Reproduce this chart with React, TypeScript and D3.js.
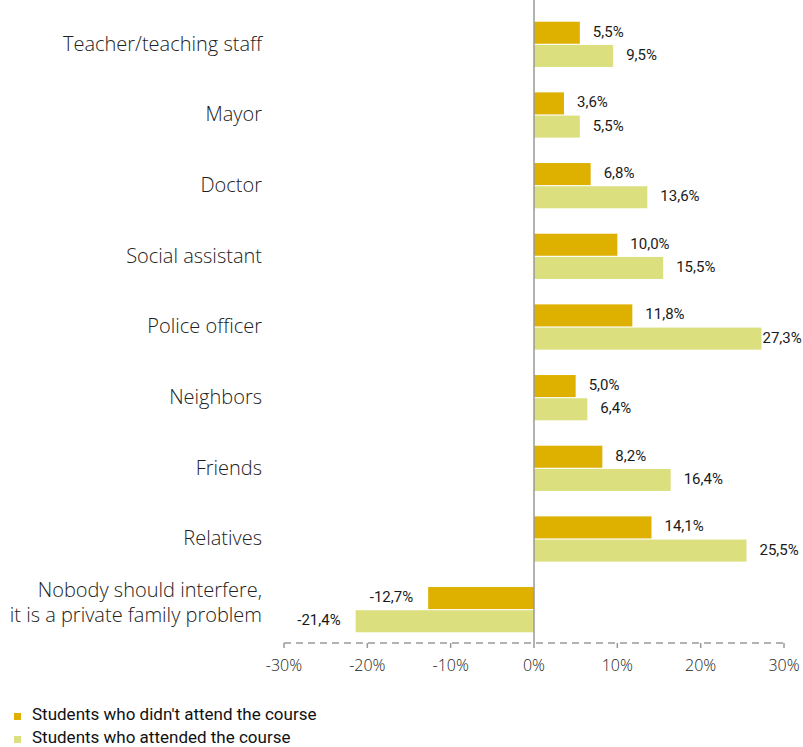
import React, { useEffect, useRef } from 'react';
import * as d3 from 'd3';

const categories = [
  'Teacher/teaching staff',
  'Mayor',
  'Doctor',
  'Social assistant',
  'Police officer',
  'Neighbors',
  'Friends',
  'Relatives',
  'Nobody should interfere,\nit is a private family problem',
];
const notAttended = [5.5, 3.6, 6.8, 10.0, 11.8, 5.0, 8.2, 14.1, -12.7];
const attended = [9.5, 5.5, 13.6, 15.5, 27.3, 6.4, 16.4, 25.5, -21.4];
const seriesNames = ["Students who didn't attend the course", 'Students who attended the course'];
const seriesColors = ['#DEB000', '#DBDF7E'];
const ticks = [-30, -20, -10, 0, 10, 20, 30];

const W = 803, H = 747;

export default function App() {
  const ref = useRef<SVGSVGElement>(null);

  useEffect(() => {
    const svg = d3.select(ref.current);
    svg.selectAll('*').remove();

    const x = d3.scaleLinear().domain([-30, 30]).range([284, 784]);
    const y = d3.scaleBand().domain(categories).range([9, 645]).paddingInner(0.36).paddingOuter(0.18);
    const inner = d3.scaleBand().domain(['0', '1']).range([0, y.bandwidth()]).paddingInner(0.05);
    const fmt = (v: number) => d3.format('.1f')(v).replace('.', ',').replace('−', '-') + '%';

    // category labels
    const lab = svg.append('g');
    categories.forEach((c) => {
      const lines = c.split('\n');
      const cy = (y(c) as number) + y.bandwidth() / 2;
      const t = lab.append('text')
        .attr('text-anchor', 'end')
        .attr('font-family', 'Open Sans')
        .attr('font-weight', 300)
        .attr('font-size', 20)
        .attr('fill', '#222');
      lines.forEach((l, i) => {
        t.append('tspan')
          .attr('x', 262)
          .attr('y', lines.length > 1 ? cy - 18 + i * 25 : cy + 1)
          .attr('dominant-baseline', 'middle')
          .text(l);
      });
    });

    // bars
    [notAttended, attended].forEach((vals, s) => {
      const g = svg.append('g');
      vals.forEach((v, i) => {
        const by = (y(categories[i]) as number) + (inner(String(s)) as number);
        g.append('rect')
          .attr('x', Math.min(x(0), x(v)))
          .attr('y', by)
          .attr('width', Math.abs(x(v) - x(0)))
          .attr('height', inner.bandwidth())
          .attr('fill', seriesColors[s]);
        const lbl = g.append('text')
          .attr('x', v >= 0 ? x(v) + 13 : x(v) - 15)
          .attr('y', by + inner.bandwidth() / 2)
          .attr('dominant-baseline', 'middle')
          .attr('text-anchor', v >= 0 ? 'start' : 'end')
          .attr('font-family', 'Roboto')
          .attr('font-size', 15)
          .attr('fill', '#1a1a1a')
          .text(fmt(v));
        // keep label inside the picture
        const bb = (lbl.node() as SVGTextElement).getBBox();
        if (bb.x + bb.width > W - 2) lbl.attr('x', Math.max(x(v) + 1, W - 2 - bb.width));
      });
    });

    // zero line
    svg.append('line')
      .attr('x1', x(0)).attr('x2', x(0))
      .attr('y1', 0).attr('y2', 643)
      .attr('stroke', '#999').attr('stroke-width', 1.5);

    // x axis
    const ax = svg.append('g');
    ax.append('line')
      .attr('x1', x(-30)).attr('x2', x(30))
      .attr('y1', 643).attr('y2', 643)
      .attr('stroke', '#999').attr('stroke-width', 1.5)
      .attr('stroke-dasharray', '7,5');
    ticks.forEach((t) => {
      ax.append('line')
        .attr('x1', x(t)).attr('x2', x(t))
        .attr('y1', 643).attr('y2', 648)
        .attr('stroke', '#999').attr('stroke-width', 1.5);
      ax.append('text')
        .attr('x', x(t))
        .attr('y', 671)
        .attr('text-anchor', 'middle')
        .attr('font-family', 'Open Sans')
        .attr('font-weight', 300)
        .attr('font-size', 16)
        .attr('fill', '#222')
        .text(t + '%');
    });

    // legend
    seriesNames.forEach((n, i) => {
      const ly = 716 + i * 23;
      svg.append('rect')
        .attr('x', 14).attr('y', ly - 3)
        .attr('width', 7).attr('height', 7)
        .attr('fill', seriesColors[i]);
      svg.append('text')
        .attr('x', 32).attr('y', ly)
        .attr('dominant-baseline', 'middle')
        .attr('font-family', 'Roboto')
        .attr('font-size', 17)
        .attr('fill', '#111')
        .text(n);
    });
  }, []);

  return (
    <svg ref={ref} width={W} height={H} style={{ position: 'absolute', left: 0, top: 0, background: '#fff' }} />
  );
}
